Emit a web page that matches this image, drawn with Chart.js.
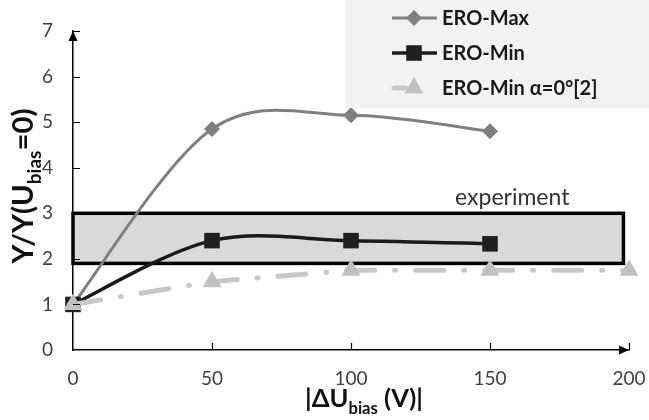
<!DOCTYPE html>
<html>
<head>
<meta charset="utf-8">
<script src="https://cdn.jsdelivr.net/npm/chart.js@4.4.0/dist/chart.umd.min.js"></script>
<style>
  html, body { margin: 0; padding: 0; background: #fff; }
  #wrap { width: 649px; height: 420px; }
</style>
</head>
<body>
<div id="wrap"><canvas id="chart" width="649" height="420"></canvas></div>
<script>
// values
const biasVoltages = [0, 50, 100, 150, 200];
const eroMax = [1, 4.85, 5.15, 4.8, null];
const eroMin = [1, 2.4, 2.4, 2.33, null];
const eroMinAlpha0 = [1, 1.5, 1.75, 1.75, 1.75];
const seriesLabels = ['ERO-Max', 'ERO-Min', 'ERO-Min \u03b1=0\u00b0[2]'];
const experimentX = [0, 198];
const experimentY = [1.9, 3.0];
const experimentLabel = 'experiment';
const yTicks = [0, 1, 2, 3, 4, 5, 6, 7];
const xTicks = [0, 50, 100, 150, 200];

const FONT = 'Lato, "Open Sans", sans-serif';

function toPoints(values) {
    return biasVoltages.map((x, i) => ({ x: x, y: values[i] })).filter(p => p.y !== null);
}

// draw a string made of normal and subscript pieces, centred on (cx, cy),
// font size adjusted so the whole string is about `width` wide
function drawSubText(ctx, parts, cx, cy, size, width) {
    const measure = s => {
        let total = 0;
        parts.forEach(p => {
            ctx.font = 'bold ' + (p.sub ? s * 0.65 : s) + 'px ' + FONT;
            p.w = ctx.measureText(p.t).width;
            total += p.w;
        });
        return total;
    };
    let total = measure(size);
    if (width) {
        size = size * width / total;
        total = measure(size);
    }
    let x = cx - total / 2;
    ctx.textBaseline = 'alphabetic';
    ctx.textAlign = 'left';
    parts.forEach(p => {
        ctx.font = 'bold ' + (p.sub ? size * 0.65 : size) + 'px ' + FONT;
        ctx.fillText(p.t, x, cy + size * 0.36 + (p.sub ? size * 0.28 : 0));
        x += p.w;
    });
}

// Excel style smoothing: control points at 1/6 of the neighbour span
const excelSmoothing = {
    id: 'excelSmoothing',
    beforeDatasetDraw(chart, args) {
        const ds = chart.data.datasets[args.index];
        if (!ds.excelSmooth) return;
        const meta = args.meta;
        meta.dataset.updateControlPoints(chart.chartArea, meta.iScale.axis);
        const pts = meta.data;
        const n = pts.length;
        for (let i = 0; i < n; i++) {
            const prev = pts[Math.max(i - 1, 0)];
            const next = pts[Math.min(i + 1, n - 1)];
            const dx = (next.x - prev.x) / 6;
            const dy = (next.y - prev.y) / 6;
            pts[i].cp1x = pts[i].x - dx;
            pts[i].cp1y = pts[i].y - dy;
            pts[i].cp2x = pts[i].x + dx;
            pts[i].cp2y = pts[i].y + dy;
        }
        meta.dataset._path = undefined;
    }
};

const extras = {
    id: 'extras',
    beforeDatasetsDraw(chart) {
        const ctx = chart.ctx;
        const xs = chart.scales.x, ys = chart.scales.y;
        const x0 = xs.getPixelForValue(experimentX[0]);
        const x1 = xs.getPixelForValue(experimentX[1]);
        const yTop = ys.getPixelForValue(experimentY[1]);
        const yBot = ys.getPixelForValue(experimentY[0]);
        ctx.save();
        ctx.fillStyle = '#d9d9d9';
        ctx.fillRect(x0, yTop, x1 - x0, yBot - yTop);
        ctx.lineWidth = 3.5;
        ctx.strokeStyle = '#000';
        ctx.strokeRect(x0, yTop, x1 - x0, yBot - yTop);
        ctx.fillStyle = '#333';
        ctx.font = '23px ' + FONT;
        ctx.textAlign = 'center';
        ctx.textBaseline = 'middle';
        ctx.fillText(experimentLabel, xs.getPixelForValue(158), ys.getPixelForValue(3.35));
        ctx.restore();
    },
    afterDraw(chart) {
        const ctx = chart.ctx;
        const xs = chart.scales.x, ys = chart.scales.y;
        const area = chart.chartArea;
        ctx.save();
        // axis ticks pointing inward
        ctx.strokeStyle = '#000';
        ctx.lineWidth = 1.2;
        ctx.beginPath();
        yTicks.slice(1).forEach(v => {
            const py = Math.round(ys.getPixelForValue(v)) + 0.5;
            ctx.moveTo(area.left, py);
            ctx.lineTo(area.left + 7, py);
        });
        xTicks.slice(1).forEach(v => {
            const px = Math.round(xs.getPixelForValue(v)) + 0.5;
            ctx.moveTo(px, area.bottom);
            ctx.lineTo(px, area.bottom - 7);
        });
        ctx.stroke();
        // arrow heads
        ctx.fillStyle = '#000';
        ctx.beginPath();
        ctx.moveTo(area.left, area.top);
        ctx.lineTo(area.left - 4.5, area.top + 10);
        ctx.lineTo(area.left + 4.5, area.top + 10);
        ctx.closePath();
        ctx.fill();
        ctx.beginPath();
        ctx.moveTo(area.right, area.bottom);
        ctx.lineTo(area.right - 10, area.bottom - 4.5);
        ctx.lineTo(area.right - 10, area.bottom + 4.5);
        ctx.closePath();
        ctx.fill();

        // axis titles
        ctx.fillStyle = '#111';
        drawSubText(ctx, [{ t: '|\u0394U' }, { t: 'bias', sub: true }, { t: ' (V)|' }], 364, 398, 24, 118);
        ctx.save();
        ctx.translate(22, 186);
        ctx.rotate(-Math.PI / 2);
        drawSubText(ctx, [{ t: 'Y/Y(U' }, { t: 'bias', sub: true }, { t: '=0)' }], 0, 0, 24, 155);
        ctx.restore();

        // legend
        ctx.fillStyle = '#f2f2f2';
        ctx.fillRect(345, 0, 304, 108);
        const rows = [18, 53, 88];
        chart.data.datasets.forEach((ds, i) => {
            const y = rows[i];
            ctx.save();
            ctx.strokeStyle = ds.borderColor;
            ctx.lineWidth = ds.borderWidth;
            ctx.lineCap = i === 2 ? 'round' : 'butt';
            ctx.beginPath();
            if (i === 2) {
                ctx.moveTo(394, y);
                ctx.lineTo(406, y);
            } else {
                ctx.moveTo(392, y);
                ctx.lineTo(437, y);
            }
            ctx.stroke();
            ctx.fillStyle = ds.pointBackgroundColor;
            Chart.helpers.drawPoint(ctx, { pointStyle: ds.pointStyle, radius: ds.pointRadius, borderWidth: 0 }, 414, y);
            ctx.restore();
            ctx.fillStyle = '#1a1a1a';
            ctx.font = 'bold 20px ' + FONT;
            ctx.textAlign = 'left';
            ctx.textBaseline = 'middle';
            ctx.fillText(ds.label, 442, y + 1);
        });
        ctx.restore();
    }
};

const ctx = document.getElementById('chart').getContext('2d');
new Chart(ctx, {
    type: 'line',
    data: {
        datasets: [
            {
                label: seriesLabels[0],
                data: toPoints(eroMax),
                borderColor: '#808080',
                borderWidth: 3,
                tension: 0.4,
                excelSmooth: true,
                pointStyle: 'rectRot',
                pointRadius: 8,
                pointBackgroundColor: '#808080',
                pointBorderWidth: 0,
                clip: false,
                order: 3
            },
            {
                label: seriesLabels[1],
                data: toPoints(eroMin),
                borderColor: '#1a1a1a',
                borderWidth: 3.5,
                tension: 0.4,
                excelSmooth: true,
                pointStyle: 'rect',
                pointRadius: 11,
                pointBackgroundColor: '#1f1f1f',
                pointBorderWidth: 0,
                clip: false,
                order: 2
            },
            {
                label: seriesLabels[2],
                data: toPoints(eroMinAlpha0),
                borderColor: '#c8c8c8',
                borderWidth: 5,
                borderDash: [28, 20, 1, 20],
                borderCapStyle: 'round',
                tension: 0,
                pointStyle: 'triangle',
                pointRadius: 11,
                pointBackgroundColor: '#c0c0c0',
                pointBorderWidth: 0,
                clip: false,
                order: 1
            }
        ]
    },
    options: {
        responsive: false,
        animation: false,
        layout: { padding: { top: 31, right: 20, left: 0, bottom: 0 } },
        plugins: {
            legend: { display: false },
            tooltip: { enabled: false }
        },
        scales: {
            x: {
                type: 'linear',
                min: 0,
                max: 200,
                afterBuildTicks: s => { s.ticks = xTicks.map(v => ({ value: v })); },
                afterFit: s => { s.height = 70; s.paddingLeft = 0; s.paddingRight = 0; },
                grid: { display: false, drawTicks: false, tickLength: 0 },
                border: { display: true, color: '#000', width: 1.5 },
                ticks: {
                    padding: 17,
                    color: '#404040',
                    font: { family: FONT, size: 19 }
                }
            },
            y: {
                min: 0,
                max: 7,
                afterBuildTicks: s => { s.ticks = yTicks.map(v => ({ value: v })); },
                afterFit: s => { s.width = 73; s.paddingTop = 0; s.paddingBottom = 0; },
                grid: { display: false, drawTicks: false, tickLength: 0 },
                border: { display: true, color: '#000', width: 1.5 },
                ticks: {
                    padding: 20,
                    color: '#404040',
                    font: { family: FONT, size: 19 }
                }
            }
        }
    },
    plugins: [excelSmoothing, extras]
});
</script>
</body>
</html>
